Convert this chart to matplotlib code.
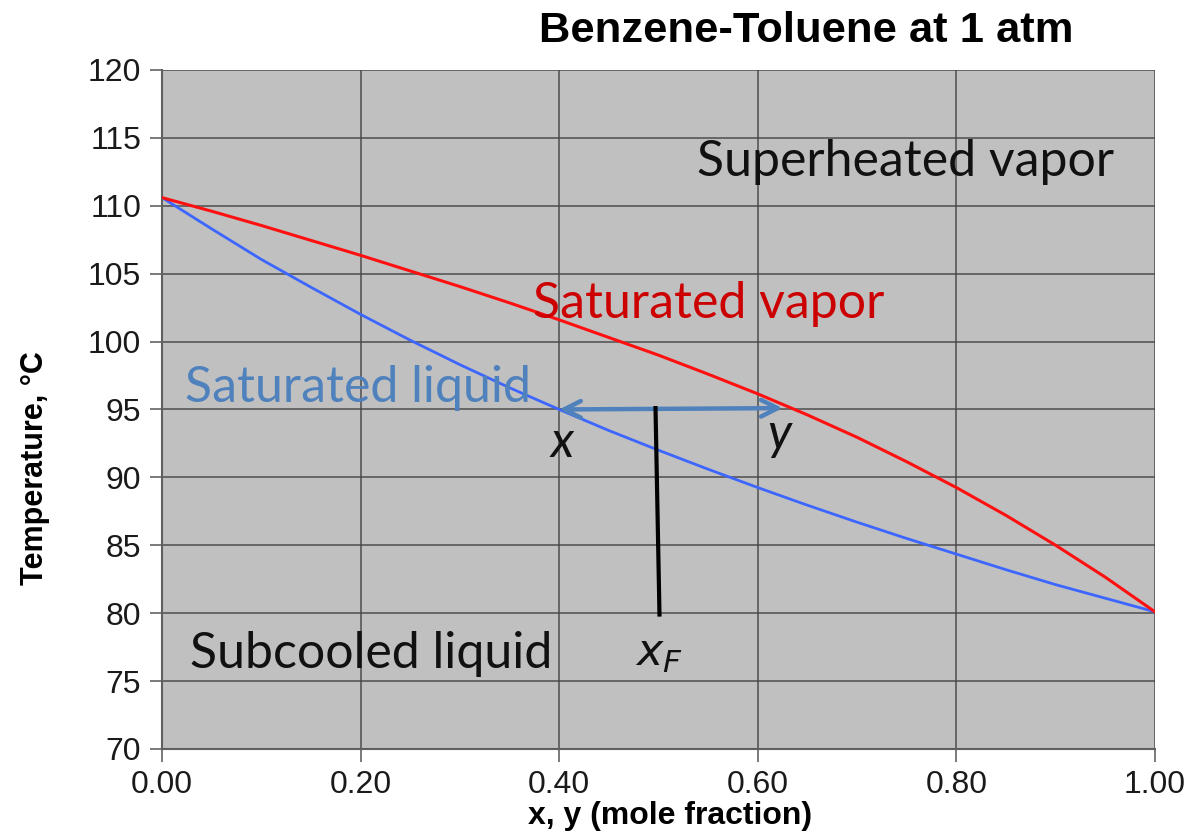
import matplotlib
matplotlib.use("Agg")
import matplotlib.pyplot as plt

# Data
x_liquid = [0.0, 0.05, 0.1, 0.15, 0.2, 0.25, 0.3, 0.35, 0.4, 0.45, 0.5,
            0.55, 0.6, 0.65, 0.7, 0.75, 0.8, 0.85, 0.9, 0.95, 1.0]
T_liquid = [110.6, 108.3, 106.05, 104.0, 102.0, 100.1, 98.3, 96.6, 95.0, 93.45, 92.0,
            90.6, 89.25, 87.95, 86.7, 85.5, 84.35, 83.2, 82.1, 81.1, 80.1]
y_vapor = [0.0, 0.05, 0.1, 0.15, 0.2, 0.25, 0.3, 0.35, 0.4, 0.45, 0.5,
           0.55, 0.6, 0.65, 0.7, 0.75, 0.8, 0.85, 0.9, 0.95, 1.0]
T_vapor = [110.6, 109.6, 108.55, 107.45, 106.35, 105.2, 104.05, 102.85, 101.6, 100.3, 99.0,
           97.6, 96.15, 94.6, 92.95, 91.15, 89.25, 87.2, 85.0, 82.65, 80.1]

tie_x = [0.40, 0.625]
tie_T = [95.0, 95.1]
feed_x = [0.497, 0.501]
feed_T = [95.1, 79.9]

x_ticks = [0.0, 0.2, 0.4, 0.6, 0.8, 1.0]
x_tick_labels = ["0.00", "0.20", "0.40", "0.60", "0.80", "1.00"]
y_ticks = [70, 75, 80, 85, 90, 95, 100, 105, 110, 115, 120]

fig = plt.figure(figsize=(11.94, 8.36), dpi=100)
ax = fig.add_axes([0.1357, 0.1041, 0.8316, 0.8122])
ax.set_facecolor("#c0c0c0")

ax.set_xlim(0, 1)
ax.set_ylim(70, 120)
ax.set_xticks(x_ticks)
ax.set_xticklabels(x_tick_labels)
ax.set_yticks(y_ticks)
ax.grid(True, color="#454545", linewidth=1.2, alpha=0.85)
ax.set_axisbelow(True)
for s in ax.spines.values():
    s.set_visible(False)
ax.spines["left"].set_visible(True)
ax.spines["bottom"].set_visible(True)
ax.spines["left"].set_color("#606060")
ax.spines["bottom"].set_color("#606060")
ax.spines["left"].set_linewidth(1.5)
ax.spines["bottom"].set_linewidth(1.5)
ax.tick_params(axis="both", direction="out", length=9, width=1.3, color="#707070",
               labelsize=23, labelcolor="#1a1a1a", pad=6)
for lab in ax.get_xticklabels() + ax.get_yticklabels():
    lab.set_family("Liberation Sans")

ax.plot(x_liquid, T_liquid, color="#3d66ff", linewidth=2.0, zorder=3)
ax.plot(y_vapor, T_vapor, color="#ff1010", linewidth=2.2, zorder=3)

ax.annotate("", xy=(tie_x[0], tie_T[0]), xytext=(tie_x[1], tie_T[1]),
            arrowprops=dict(arrowstyle="<->", color="#4f81bd", lw=3.2,
                            mutation_scale=30, shrinkA=0, shrinkB=0), zorder=4)
ax.plot(feed_x, feed_T, color="black", linewidth=3.0, zorder=5)

cal = "Lato"
fs = 36
ax.text(0.539, 113.2, "Superheated vapor", fontsize=fs, family=cal, color="#111111",
        ha="left", va="center")
ax.text(0.374, 102.8, "Saturated vapor", fontsize=fs, family=cal, color="#cc0000",
        ha="left", va="center")
ax.text(0.023, 96.6, "Saturated liquid", fontsize=fs, family=cal, color="#4f81bd",
        ha="left", va="center")
ax.text(0.028, 77.0, "Subcooled liquid", fontsize=fs, family=cal, color="#111111",
        ha="left", va="center")
ax.text(0.403, 92.5, "x", fontsize=fs, family=cal, style="italic", color="#111111",
        ha="center", va="center")
ax.text(0.622, 93.1, "y", fontsize=fs, family=cal, style="italic", color="#111111",
        ha="center", va="center")
ax.text(0.50, 77.0, r"$x_F$", fontsize=32, color="#111111", ha="center", va="center",
        math_fontfamily="dejavusans")

fig.text(0.675, 0.963, "Benzene-Toluene at 1 atm", fontsize=31.3, fontweight="bold",
         family="Liberation Sans", ha="center", va="center", color="black")
fig.text(0.029, 0.44, "Temperature, °C", fontsize=22, fontweight="bold",
         family="Liberation Sans", rotation=90, ha="center", va="center")
fig.text(0.561, 0.024, "x, y (mole fraction)", fontsize=23, fontweight="bold",
         family="Liberation Sans", ha="center", va="center")

fig.savefig("out.png", dpi=100)
